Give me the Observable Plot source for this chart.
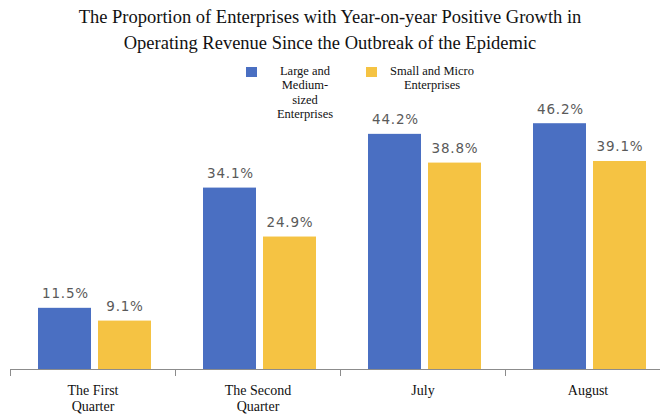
<!DOCTYPE html>
<html>
<head>
<meta charset="utf-8">
<script src="https://cdn.jsdelivr.net/npm/d3@7"></script>
<script src="https://cdn.jsdelivr.net/npm/@observablehq/plot@0.6"></script>
<style>
  html, body { margin: 0; padding: 0; background: #fff; }
  #wrap { position: relative; width: 660px; height: 415px; overflow: hidden; }
  #title { height: 58px; box-sizing: border-box; padding-top: 4px; text-align: center;
    font-family: "Liberation Serif", "Times New Roman", serif; font-size: 18.5px; line-height: 26px; color: #111; }
  .leg { position: absolute; font-family: "Liberation Serif", "Times New Roman", serif; font-size: 12.5px;
    line-height: 14.3px; color: #111; text-align: center; }
  .sw { position: absolute; width: 11px; height: 10px; }
  #chart svg g[aria-label="text"] text { letter-spacing: 0.8px; }
</style>
</head>
<body>
<div id="wrap">
  <div id="title">The Proportion of Enterprises with Year-on-year Positive Growth in<br>Operating Revenue Since the Outbreak of the Epidemic</div>
  <div id="chart"></div>
</div>
<script>
const categories = ["The First\nQuarter", "The Second\nQuarter", "July", "August"];
const seriesNames = ["Large and\nMedium-\nsized\nEnterprises", "Small and Micro\nEnterprises"];
const largeMedium = [11.5, 34.1, 44.2, 46.2];
const smallMicro = [9.1, 24.9, 38.8, 39.1];
const colors = ["#4A6FC2", "#F5C343"];

const rowsLarge = categories.map((c, i) => ({cat: c, value: largeMedium[i]}));
const rowsSmall = categories.map((c, i) => ({cat: c, value: smallMicro[i]}));

const labelStyle = {fontFamily: "DejaVu Sans, sans-serif", fontSize: 13.5, fill: "#5a5a5a", lineAnchor: "bottom", dy: -10};

const chart = Plot.plot({
  width: 660,
  height: 357,
  marginTop: 45,
  marginBottom: 46,
  marginLeft: 10,
  marginRight: 0,
  x: {domain: categories, range: [10, 670], padding: 0},
  y: {domain: [0, 50], axis: null},
  marks: [
    Plot.barY(rowsLarge, {x: "cat", y: "value", fill: colors[0], insetLeft: 28, insetRight: 84}),
    Plot.barY(rowsSmall, {x: "cat", y: "value", fill: colors[1], insetLeft: 88, insetRight: 24}),
    Plot.text(rowsLarge, {x: "cat", y: "value", text: d => d.value.toFixed(1) + "%", dx: -27.5, ...labelStyle}),
    Plot.text(rowsSmall, {x: "cat", y: "value", text: d => d.value.toFixed(1) + "%", dx: 32, ...labelStyle}),
    Plot.ruleY([0], {stroke: "#8c8c8c", strokeWidth: 1}),
    Plot.ruleX(categories, {x: d => d, y1: 0, y2: 0, dx: -82.5, insetBottom: -7, stroke: "#8c8c8c"}),
    Plot.axisX({tickSize: 0, tickPadding: 14, fontFamily: "Liberation Serif, Times New Roman, serif", fontSize: 14, fill: "#111", lineHeight: 1.15, label: null})
  ]
});
document.getElementById("chart").appendChild(chart);

// legend
const wrap = document.getElementById("wrap");
const legendItems = [
  {name: seriesNames[0], color: colors[0], sw: [246, 67], text: [259, 64, 92]},
  {name: seriesNames[1], color: colors[1], sw: [366, 67], text: [377, 64, 110]}
];
legendItems.forEach(it => {
  const s = document.createElement("div");
  s.className = "sw";
  s.style.left = it.sw[0] + "px"; s.style.top = it.sw[1] + "px"; s.style.background = it.color;
  wrap.appendChild(s);
  const t = document.createElement("div");
  t.className = "leg";
  t.style.left = it.text[0] + "px"; t.style.top = it.text[1] + "px"; t.style.width = it.text[2] + "px";
  t.innerHTML = it.name.split("\n").join("<br>");
  wrap.appendChild(t);
});
</script>
</body>
</html>
